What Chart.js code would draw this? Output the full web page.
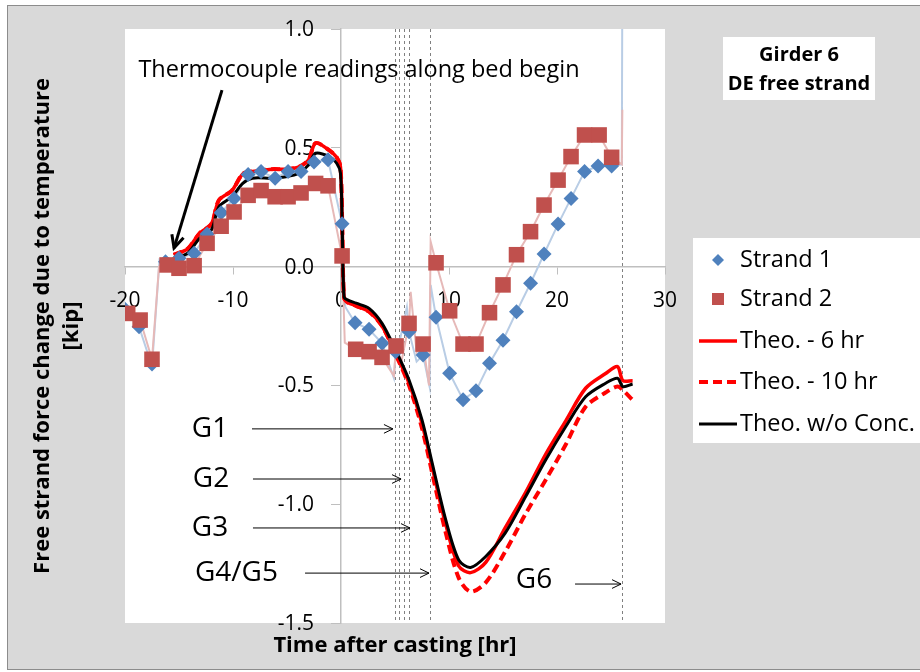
<!DOCTYPE html>
<html>
<head>
<meta charset="utf-8">
<script src="https://cdn.jsdelivr.net/npm/chart.js@4.4.0/dist/chart.umd.min.js"></script>
<style>
  html, body { margin: 0; padding: 0; background: #fff; }
  #wrap { width: 920px; height: 672px; }
</style>
</head>
<body>
<div id="wrap"><canvas id="chart" width="920" height="672"></canvas></div>
<script>
// measured markers, time after casting [hr] vs force change [kip]
const strand1Time = [-20, -18.7, -17.5, -16.25, -15, -13.6, -12.4, -11.1, -9.9, -8.6, -7.4, -6.1, -4.9, -3.7, -2.5, -1.2, 0.1,
  1.3, 2.6, 3.8, 5.06, 6.3, 7.6, 8.8, 10.06, 11.3, 12.5, 13.75, 15, 16.25, 17.55, 18.8, 20.1, 21.3, 22.55, 23.8, 25.06];
const strand1Force = [-0.18, -0.253, -0.41, 0.02, 0.035, 0.056, 0.137, 0.227, 0.287, 0.388, 0.40, 0.372, 0.40, 0.40, 0.44, 0.45, 0.18,
  -0.236, -0.264, -0.323, -0.358, -0.274, -0.372, -0.213, -0.449, -0.56, -0.523, -0.407, -0.31, -0.19, -0.07, 0.053, 0.179, 0.287, 0.40, 0.423, 0.423];

const strand2Time = [-19.75, -18.6, -17.5, -16.1, -15, -13.6, -12.4, -11.1, -9.9, -8.6, -7.4, -6.1, -4.9, -3.7, -2.35, -1.2, 0.1,
  1.36, 2.6, 3.8, 5.1, 6.3, 7.6, 8.8, 10.06, 11.3, 12.5, 13.75, 15, 16.25, 17.55, 18.8, 20.1, 21.3, 22.55, 23.9, 25.06];
const strand2Force = [-0.197, -0.225, -0.39, 0.007, -0.007, 0.004, 0.098, 0.17, 0.23, 0.30, 0.32, 0.294, 0.294, 0.31, 0.35, 0.34, 0.045,
  -0.348, -0.358, -0.382, -0.334, -0.239, -0.326, 0.016, -0.186, -0.326, -0.326, -0.194, -0.077, 0.05, 0.147, 0.259, 0.364, 0.463, 0.554, 0.554, 0.46];

// raw gauge traces behind the markers
const strand1TraceTime = [-20, -18.7, -17.5, -16.8, -16.25, -15, -13.6, -12.4, -11.1, -9.9, -8.6, -7.4, -6.1, -4.9, -3.7, -2.5, -1.2, 0.1, 0.4,
  1.3, 2.6, 3.8, 4.9, 5.06, 5.5, 6.1, 6.3, 7.0, 7.6, 8.2, 8.3, 8.8, 10.06, 11.3, 12.5, 13.75, 15, 16.25, 17.55, 18.8, 20.1, 21.3, 22.55, 23.8, 25.06, 26.0, 26.05];
const strand1TraceForce = [-0.18, -0.253, -0.42, 0.03, 0.02, 0.035, 0.056, 0.137, 0.227, 0.287, 0.388, 0.40, 0.372, 0.40, 0.40, 0.44, 0.45, 0.18, -0.17,
  -0.236, -0.264, -0.323, -0.47, -0.358, -0.30, -0.17, -0.274, -0.40, -0.372, -0.505, -0.077, -0.213, -0.449, -0.56, -0.523, -0.407, -0.31, -0.19, -0.07, 0.053, 0.179, 0.287, 0.40, 0.423, 0.423, 0.43, 1.2];

const strand2TraceTime = [-19.75, -18.6, -17.5, -16.85, -16.1, -15, -13.6, -12.4, -11.1, -9.9, -8.6, -7.4, -6.1, -4.9, -3.7, -2.35, -1.2, 0.1, 0.35,
  1.36, 2.6, 3.8, 4.9, 5.1, 5.6, 6.3, 6.45, 7.0, 7.6, 8.15, 8.3, 8.8, 10.06, 11.3, 12.5, 13.75, 15, 16.25, 17.55, 18.8, 20.1, 21.3, 22.55, 23.9, 25.06, 26.0, 26.05];
const strand2TraceForce = [-0.197, -0.225, -0.39, 0.0, 0.007, -0.007, 0.004, 0.098, 0.17, 0.23, 0.30, 0.32, 0.294, 0.294, 0.31, 0.35, 0.34, 0.045, -0.32,
  -0.348, -0.358, -0.382, -0.46, -0.334, -0.40, -0.239, -0.106, -0.36, -0.326, -0.50, 0.105, 0.016, -0.186, -0.326, -0.326, -0.194, -0.077, 0.05, 0.147, 0.259, 0.364, 0.463, 0.554, 0.554, 0.46, 0.43, 0.66];

// theoretical curves
const theoTime = [-15.5, -14.2, -13.1, -12.0, -11.3, -10.1, -9.1, -8.2, -6.4, -5.1, -3.9, -3.0, -2.35, -1.1, -0.4, -0.05, 0.12, 0.28, 0.6,
  1.4, 2.6, 3.8, 5.06, 6.3, 7.5, 8.45, 9.7, 10.9, 12.0, 13.4, 15.2, 17.1, 18.95, 20.8, 22.65, 24.5, 25.6, 26.1, 27.0];
const theo6hr = [0.05, 0.075, 0.14, 0.18, 0.28, 0.32, 0.39, 0.40, 0.41, 0.41, 0.42, 0.45, 0.52, 0.49, 0.46, 0.42, 0.16, -0.13, -0.15,
  -0.165, -0.19, -0.25, -0.365, -0.49, -0.66, -0.845, -1.085, -1.26, -1.288, -1.245, -1.10, -0.95, -0.79, -0.65, -0.512, -0.45, -0.421, -0.48, -0.48];
const theo10hr = [0.05, 0.075, 0.14, 0.18, 0.28, 0.32, 0.39, 0.40, 0.41, 0.41, 0.42, 0.45, 0.52, 0.49, 0.46, 0.42, 0.16, -0.13, -0.15,
  -0.165, -0.19, -0.25, -0.37, -0.50, -0.68, -0.87, -1.12, -1.31, -1.368, -1.33, -1.20, -1.04, -0.898, -0.75, -0.59, -0.53, -0.505, -0.52, -0.561];
const theoNoConc = [0.035, 0.056, 0.119, 0.154, 0.252, 0.294, 0.35, 0.372, 0.372, 0.378, 0.393, 0.428, 0.477, 0.463, 0.435, 0.393, 0.154, -0.127, -0.14,
  -0.154, -0.176, -0.239, -0.351, -0.477, -0.645, -0.828, -1.066, -1.235, -1.266, -1.22, -1.122, -0.968, -0.814, -0.674, -0.548, -0.491, -0.47, -0.505, -0.494];

// girder pour times (dashed verticals)
const pourTimes = [5.0, 5.4, 5.8, 6.3, 8.2, 26.0];

const xTicks = [-20, -10, 0, 10, 20, 30];
const yTicks = [-1.5, -1.0, -0.5, 0.0, 0.5, 1.0];

const FONT = "'Open Sans', sans-serif";
const pts = (xs, ys) => xs.map((x, i) => ({ x: x, y: ys[i] }));

// annotation text placed in data units
const notes = [
  { text: 'G1', x: -12.13, y: -0.683, from: -8.24, to: 4.81 },
  { text: 'G2', x: -12.04, y: -0.894, from: -8.15, to: 5.56 },
  { text: 'G3', x: -12.13, y: -1.100, from: -8.15, to: 6.39 },
  { text: 'G4/G5', x: -9.68, y: -1.290, from: -3.33, to: 8.15 },
  { text: 'G6', x: 17.87, y: -1.319, from: 21.67, to: 25.93, ay: -1.336 }
];

function arrowHead(ctx, x1, y1, x2, y2, len) {
  const a = Math.atan2(y2 - y1, x2 - x1);
  ctx.beginPath();
  ctx.moveTo(x2 - len * Math.cos(a - 0.45), y2 - len * Math.sin(a - 0.45));
  ctx.lineTo(x2, y2);
  ctx.lineTo(x2 - len * Math.cos(a + 0.45), y2 - len * Math.sin(a + 0.45));
  ctx.stroke();
}

const sheet = {
  id: 'sheet',
  beforeDraw(chart) {
    const { ctx, chartArea: a } = chart;
    ctx.save();
    ctx.fillStyle = '#ffffff';
    ctx.fillRect(0, 0, chart.width, chart.height);
    ctx.fillStyle = '#d9d9d9';
    ctx.fillRect(7, 5, chart.width - 7, 665);
    ctx.strokeStyle = '#8c8c8c';
    ctx.lineWidth = 1;
    ctx.strokeRect(7.5, 5.5, chart.width, 664);
    ctx.fillStyle = '#ffffff';
    ctx.fillRect(a.left, a.top, a.right - a.left, a.bottom - a.top);
    ctx.restore();
  },
  beforeDatasetsDraw(chart) {
    const { ctx, chartArea: a, scales } = chart;
    ctx.save();
    ctx.strokeStyle = '#808080';
    ctx.lineWidth = 1;
    ctx.setLineDash([3, 3]);
    pourTimes.forEach(t => {
      const px = Math.round(scales.x.getPixelForValue(t)) + 0.5;
      ctx.beginPath();
      ctx.moveTo(px, a.top);
      ctx.lineTo(px, a.bottom);
      ctx.stroke();
    });
    ctx.restore();
    // y tick labels sit well left of the centred axis
    ctx.save();
    ctx.fillStyle = '#000';
    ctx.font = '21px ' + FONT;
    ctx.textAlign = 'right';
    ctx.textBaseline = 'middle';
    const y0 = scales.x.getPixelForValue(0);
    yTicks.forEach(v => {
      ctx.fillText(v.toFixed(1), y0 - 27, scales.y.getPixelForValue(v) + 1);
    });
    ctx.restore();
  },
  afterDraw(chart) {
    const { ctx, chartArea: a, scales } = chart;
    const X = v => scales.x.getPixelForValue(v);
    const Y = v => scales.y.getPixelForValue(v);
    ctx.save();
    ctx.fillStyle = '#000';
    ctx.textAlign = 'center';
    ctx.textBaseline = 'middle';

    // axis titles
    ctx.font = 'bold 22px ' + FONT;
    ctx.fillText('Time after casting [hr]', (a.left + a.right) / 2, 646);
    ctx.save();
    ctx.translate(43, (a.top + a.bottom) / 2);
    ctx.rotate(-Math.PI / 2);
    ctx.fillText('Free strand force change due to temperature', 0, 0);
    ctx.fillText('[kip]', 0, 29);
    ctx.restore();

    // thermocouple note
    ctx.font = '23.5px ' + FONT;
    ctx.fillText('Thermocouple readings along bed begin', X(1.67), Y(0.827));
    ctx.strokeStyle = '#000';
    ctx.lineWidth = 3;
    ctx.beginPath();
    ctx.moveTo(X(-11.02), Y(0.743));
    ctx.lineTo(X(-15.46), Y(0.078));
    ctx.stroke();
    arrowHead(ctx, X(-11.02), Y(0.743), X(-15.46), Y(0.078), 14);

    // girder markers
    ctx.font = '28px ' + FONT;
    ctx.lineWidth = 1;
    notes.forEach(n => {
      ctx.fillText(n.text, X(n.x), Y(n.y));
      const ay = Y(n.ay !== undefined ? n.ay : n.y);
      ctx.beginPath();
      ctx.moveTo(X(n.from), ay);
      ctx.lineTo(X(n.to), ay);
      ctx.stroke();
      arrowHead(ctx, X(n.from), ay, X(n.to), ay, 10);
    });

    // title box
    ctx.fillStyle = '#ffffff';
    ctx.fillRect(723, 37, 152, 63);
    ctx.fillStyle = '#000';
    ctx.font = 'bold 20px ' + FONT;
    ctx.fillText('Girder 6', 799, 55);
    ctx.fillText('DE free strand', 799, 84);

    // legend
    ctx.fillStyle = '#ffffff';
    ctx.fillRect(693, 238, 227, 205);
    const rows = [260, 299, 341, 382, 424];
    const ds = chart.data.datasets;
    const order = ['Strand 1', 'Strand 2', 'Theo. - 6 hr', 'Theo. - 10 hr', 'Theo. w/o Conc.'];
    order.forEach((label, i) => {
      const d = ds.find(s => s.label === label);
      const y = rows[i];
      if (d.pointStyle === 'rectRot') {
        ctx.fillStyle = d.backgroundColor;
        ctx.beginPath();
        ctx.moveTo(718, y - 6); ctx.lineTo(724, y); ctx.lineTo(718, y + 6); ctx.lineTo(712, y);
        ctx.closePath(); ctx.fill();
      } else if (d.pointStyle === 'rect') {
        ctx.fillStyle = d.backgroundColor;
        ctx.fillRect(712, y - 6, 12, 12);
      } else {
        ctx.strokeStyle = d.borderColor;
        ctx.lineWidth = d.borderWidth;
        ctx.setLineDash(d.borderDash || []);
        ctx.beginPath();
        ctx.moveTo(699, y); ctx.lineTo(737, y);
        ctx.stroke();
        ctx.setLineDash([]);
      }
      ctx.fillStyle = '#000';
      ctx.textAlign = 'left';
      ctx.font = '23.5px ' + FONT;
      ctx.fillText(label, 740, y);
    });
    ctx.restore();
  }
};

const tickFont = { family: FONT, size: 21 };

new Chart(document.getElementById('chart'), {
  type: 'scatter',
  data: {
    datasets: [
      { label: 'Strand 2', data: pts(strand2Time, strand2Force), showLine: false, pointStyle: 'rect',
        pointRadius: 11, backgroundColor: '#c0504d', borderColor: '#c0504d', borderWidth: 0 },
      { label: 'Strand 1', data: pts(strand1Time, strand1Force), showLine: false, pointStyle: 'rectRot',
        pointRadius: 7.5, backgroundColor: '#4f81bd', borderColor: '#4f81bd', borderWidth: 0 },
      { label: 'Theo. w/o Conc.', data: pts(theoTime, theoNoConc), showLine: true, pointRadius: 0,
        borderColor: '#000000', borderWidth: 3, tension: 0.3 },
      { label: 'Theo. - 6 hr', data: pts(theoTime, theo6hr), showLine: true, pointRadius: 0,
        borderColor: '#ff0000', borderWidth: 3.5, tension: 0.3 },
      { label: 'Theo. - 10 hr', data: pts(theoTime, theo10hr), showLine: true, pointRadius: 0,
        borderColor: '#ff0000', borderWidth: 4, borderDash: [9, 5], tension: 0.3 },
      { label: 'trace 2', data: pts(strand2TraceTime, strand2TraceForce), showLine: true, pointRadius: 0,
        borderColor: '#e6b9b8', borderWidth: 2 },
      { label: 'trace 1', data: pts(strand1TraceTime, strand1TraceForce), showLine: true, pointRadius: 0,
        borderColor: '#b9cde5', borderWidth: 2 }
    ]
  },
  options: {
    responsive: false,
    animation: false,
    devicePixelRatio: 1,
    layout: { padding: { left: 125, right: 255, top: 29, bottom: 49 } },
    plugins: { legend: { display: false }, tooltip: { enabled: false } },
    scales: {
      x: {
        type: 'linear', min: -20, max: 30, position: { y: 0 },
        afterBuildTicks: s => { s.ticks = xTicks.map(v => ({ value: v })); },
        grid: { drawOnChartArea: false, tickLength: 7, color: '#bfbfbf' },
        border: { color: '#bfbfbf', width: 1.5 },
        ticks: { font: tickFont, color: '#000', padding: 15, autoSkip: false, maxRotation: 0, callback: v => String(v) }
      },
      y: {
        type: 'linear', min: -1.5, max: 1.0, position: { x: 0 },
        afterBuildTicks: s => { s.ticks = yTicks.map(v => ({ value: v })); },
        grid: { drawOnChartArea: false, tickLength: 9, color: '#bfbfbf' },
        border: { color: '#bfbfbf', width: 1.5 },
        ticks: { display: false }
      }
    }
  },
  plugins: [sheet]
});
</script>
</body>
</html>
